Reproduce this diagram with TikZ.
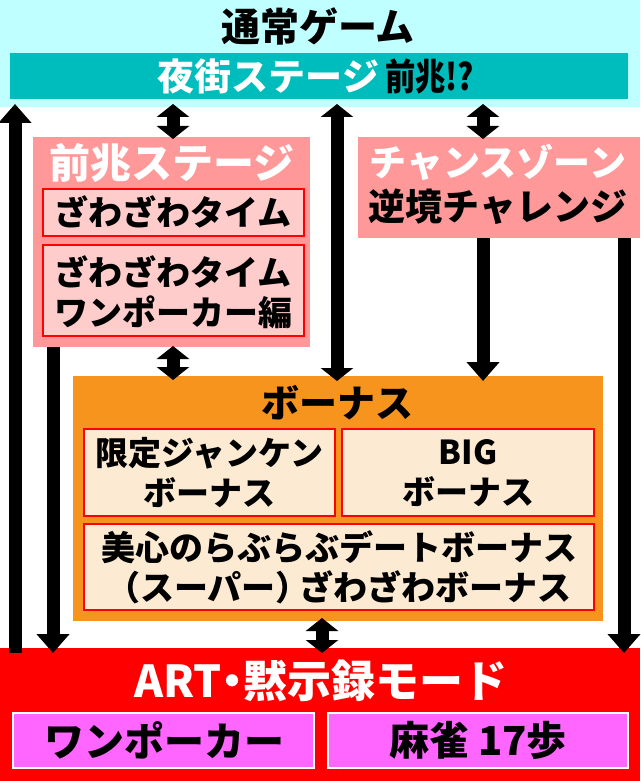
\documentclass[tikz,border=0pt]{standalone}
\usepackage{fontspec}
\usepackage{graphicx}
\newfontfamily\jpfont{Noto Sans CJK JP Black}
\usetikzlibrary{arrows.meta}
\definecolor{cyanlt}{RGB}{191,255,255}
\definecolor{tealbg}{RGB}{0,189,189}
\definecolor{pinkbg}{RGB}{255,153,153}
\definecolor{pinkin}{RGB}{255,204,204}
\definecolor{bonusbg}{RGB}{247,148,29}
\definecolor{bonusin}{RGB}{253,234,210}
\definecolor{artbg}{RGB}{255,0,0}
\definecolor{artin}{RGB}{255,102,255}
\tikzset{
  panel/.style={inner sep=0pt, outer sep=0pt, anchor=north west},
  fs/.style={inner sep=0pt, align=center, font=\jpfont\fontsize{#1}{#1}\selectfont},
  lines/.style={inner sep=0pt, align=center, font=\jpfont\fontsize{#1}{40}\selectfont},
  subbox/.style={panel, draw=red, line width=1.5pt},
  arr/.style={line width=13pt, -{Triangle[width=32pt,length=19pt]}},
  darr/.style={line width=13pt, {Triangle[width=32pt,length=13pt]}-{Triangle[width=32pt,length=13pt]}}
}
\begin{document}
\begin{tikzpicture}[x=1pt,y=-1pt]
  \useasboundingbox (0,0) rectangle (640,781);
  % boxes
  \node[panel, fill=cyanlt, minimum width=640pt, minimum height=107pt] (tsujo) at (0,0) {};
  \node[panel, fill=tealbg, minimum width=618pt, minimum height=46pt] (yogai) at (10,53) {};
  \node[panel, fill=pinkbg, minimum width=277pt, minimum height=210pt] (zencho) at (33,137) {};
  \node[subbox, fill=pinkin, minimum width=261pt, minimum height=47pt] (zawa) at (43,189) {};
  \node[subbox, fill=pinkin, minimum width=261pt, minimum height=91pt] (zawaone) at (43,245) {};
  \node[panel, fill=pinkbg, minimum width=282pt, minimum height=101pt] (chance) at (358,137) {};
  \node[panel, fill=bonusbg, minimum width=530pt, minimum height=245pt] (bonus) at (73,376) {};
  \node[subbox, fill=bonusin, minimum width=251pt, minimum height=87pt] (janken) at (84,429) {};
  \node[subbox, fill=bonusin, minimum width=252pt, minimum height=87pt] (big) at (342,429) {};
  \node[subbox, fill=bonusin, minimum width=510pt, minimum height=86pt] (bibi) at (84,524) {};
  \node[panel, fill=artbg, minimum width=640pt, minimum height=133pt] (art) at (0,648) {};
  \node[panel, fill=artin, draw=white, line width=1.5pt, minimum width=301pt, minimum height=55pt] (onepoker) at (13,713) {};
  \node[panel, fill=artin, draw=white, line width=1.5pt, minimum width=300pt, minimum height=55pt] (mahjong) at (328,713) {};
  % texts
  \node[fs=39] (tsujoT) at (318,26) {通常ゲーム};
  \node[fs=37] (yogaiT) at (316,76) {\textcolor{white}{夜街ステージ}\,\scalebox{0.82}[1]{前兆!?}};
  \node[fs=41, text=white] (zenchoT) at (172,163) {前兆ステージ};
  \node[fs=34] (zawaT) at (173,212) {ざわざわタイム};
  \node[lines=34] (zawaoneT) at (173,292) {ざわざわタイム\\ワンポーカー編};
  \node[fs=37, text=white] (chanceT) at (498,162) {チャンスゾーン};
  \node[fs=37] (gyakkyoT) at (498,207) {逆境チャレンジ};
  \node[fs=38] (bonusT) at (337,403) {ボーナス};
  \node[lines=33] (jankenT) at (209.5,473) {限定ジャンケン\\ボーナス};
  \node[lines=33] (bigT) at (468,473) {BIG\\ボーナス};
  \node[lines=34] (bibiT) at (339,567) {美心のらぶらぶデートボーナス\\（スーパー）\hspace{-0.3em}ざわざわボーナス};
  \node[fs=44, text=white] (artT) at (321,681) {ART\hspace{-0.25em}・\hspace{-0.25em}黙示録モード};
  \node[fs=40] (onepokerT) at (164.5,740) {ワンポーカー};
  \node[fs=40] (mahjongT) at (478,740) {麻雀 17歩};
  % arrows
  \coordinate (c1) at (15,0);
  \coordinate (c2) at (173,0);
  \coordinate (c3) at (337,0);
  \coordinate (c4) at (483,0);
  \coordinate (c5) at (624,0);
  \coordinate (c6) at (53,0);
  \coordinate (c7) at (322,0);
  \draw[arr, shorten <=-5pt, shorten >=-3pt] (art.north -| c1) -- (tsujo.south -| c1);
  \draw[darr, shorten <=-3pt, shorten >=-2pt] (tsujo.south -| c2) -- (zencho.north -| c2);
  \draw[darr, shorten <=-3pt, shorten >=-5pt] (tsujo.south -| c3) -- (bonus.north -| c3);
  \draw[darr, shorten <=-3pt, shorten >=-2pt] (tsujo.south -| c4) -- (chance.north -| c4);
  \draw[arr, shorten >=-5pt] (chance.south -| c4) -- (bonus.north -| c4);
  \draw[arr, shorten >=-5pt] (chance.south -| c5) -- (art.north -| c5);
  \draw[arr, shorten >=-5pt] (zencho.south -| c6) -- (art.north -| c6);
  \draw[darr, shorten <=-1pt, shorten >=-4pt] (zencho.south -| c2) -- (bonus.north -| c2);
  \draw[darr, shorten <=-3pt, shorten >=-5pt] (bonus.south -| c7) -- (art.north -| c7);
\end{tikzpicture}
\end{document}
